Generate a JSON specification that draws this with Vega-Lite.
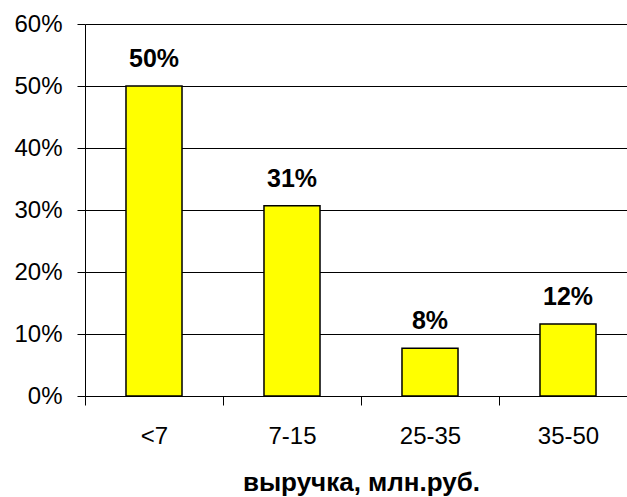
{
  "$schema": "https://vega.github.io/schema/vega-lite/v6.json",
  "width": 542,
  "height": 372,
  "autosize": {"type": "none"},
  "padding": {"left": 85, "top": 24, "right": 0, "bottom": 101},
  "background": "white",
  "config": {
    "font": "Liberation Sans",
    "view": {"stroke": null}
  },
  "data": {
    "values": [
      {"range": "<7", "share": 0.5},
      {"range": "7-15", "share": 0.307},
      {"range": "25-35", "share": 0.077},
      {"range": "35-50", "share": 0.116}
    ]
  },
  "encoding": {
    "x": {
      "field": "range",
      "type": "nominal",
      "sort": null,
      "scale": {"range": [0, 552], "paddingInner": 0, "paddingOuter": 0},
      "axis": {
        "title": "выручка, млн.руб.",
        "titleFont": "Liberation Sans",
        "titleFontSize": 26,
        "titleFontWeight": "bold",
        "titleColor": "black",
        "titleBaseline": "alphabetic",
        "titleY": 94,
        "labelAngle": 0,
        "labelFontSize": 24,
        "labelColor": "black",
        "labelBaseline": "alphabetic",
        "labelPadding": 38,
        "tickBand": "extent",
        "tickSize": 9,
        "tickColor": "black",
        "domainColor": "black",
        "grid": false
      }
    },
    "y": {
      "field": "share",
      "type": "quantitative",
      "scale": {"domain": [0, 0.6], "nice": false},
      "axis": {
        "title": null,
        "format": ".0%",
        "values": [0, 0.1, 0.2, 0.3, 0.4, 0.5, 0.6],
        "labelFontSize": 24,
        "labelColor": "black",
        "labelPadding": 15,
        "tickSize": 8,
        "tickColor": "black",
        "domainColor": "black",
        "gridColor": "black",
        "gridOpacity": 1,
        "grid": true
      }
    }
  },
  "layer": [
    {
      "mark": {"type": "bar", "color": "#FFFF00", "stroke": "black", "strokeWidth": 1.5, "width": {"band": 0.406}}
    },
    {
      "mark": {"type": "text", "fontSize": 25, "fontWeight": "bold", "baseline": "alphabetic", "dy": -19, "color": "black"},
      "encoding": {"text": {"field": "share", "type": "quantitative", "format": ".0%"}}
    }
  ]
}
